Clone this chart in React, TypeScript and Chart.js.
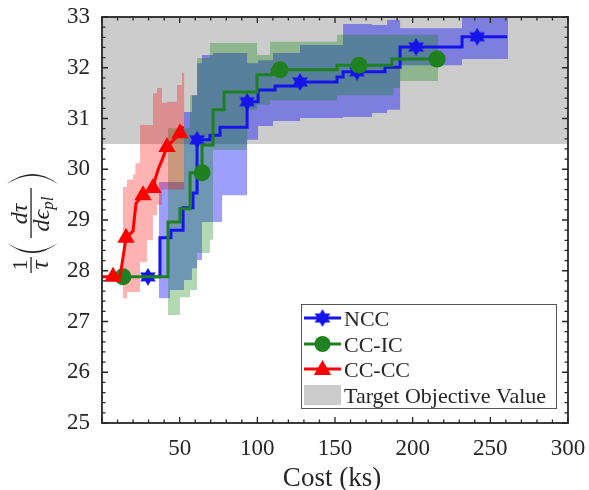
import React, { useEffect, useRef } from 'react';
import { Chart, registerables } from 'chart.js';
Chart.register(...registerables);

// ---------- data ----------
const xTicks = [50, 100, 150, 200, 250, 300];
const yTicks = [25, 26, 27, 28, 29, 30, 31, 32, 33];
const xMinorStep = 10;
const yMinorStep = 0.2;

const targetLow = 30.5;
const targetHigh = 33;

// NCC (blue)
const nccX = [25.1, 37.3, 44.4, 52.2, 58.6, 61.2, 69.5, 76.0, 93.4, 100.5, 111.4, 126.2, 151.3, 155.2, 182.2, 191.9, 231.8, 260.8];
const nccY = [27.88, 28.65, 28.8, 29.24, 29.53, 30.58, 30.67, 30.83, 31.33, 31.56, 31.64, 31.72, 31.82, 31.92, 32.01, 32.41, 32.61, 32.61];
const nccMarkX = [29.6, 61.2, 93.4, 127.5, 164.2, 202.2, 241.5];
const nccMarkY = [27.88, 30.58, 31.33, 31.72, 31.92, 32.41, 32.61];
const nccBandX = [36.7, 43.8, 52.8, 57.9, 61.2, 64.4, 71.5, 77.3, 93.4, 100.5, 110.1, 127.5, 155.2, 173.8, 183.5, 191.9, 231.8, 261.4];
const nccBandLow = [27.46, 27.62, 27.82, 28.05, 28.21, 28.96, 28.96, 29.49, 30.58, 30.85, 30.95, 31.01, 31.03, 31.11, 31.17, 32.05, 32.17, 32.17];
const nccBandHigh = [29.75, 29.75, 31.13, 31.46, 32.09, 32.25, 32.29, 32.29, 32.09, 32.15, 32.29, 32.45, 32.86, 32.84, 32.94, 32.78, 32.98, 32.98];

// CC-IC (green)
const ccicX = [9.66, 42.5, 50.2, 56.7, 64.4, 71.5, 78.6, 99.8, 109.5, 151.3, 186.7, 215.7];
const ccicY = [27.88, 28.96, 29.22, 29.93, 30.48, 31.17, 31.52, 31.86, 31.96, 32.05, 32.17, 32.17];
const ccicMarkX = [13.5, 64.4, 114.6, 165.5, 215.7];
const ccicMarkY = [27.88, 29.93, 31.96, 32.05, 32.17];
const ccicBandX = [42.5, 50.2, 56.7, 61.2, 69.5, 71.5, 93.4, 99.8, 108.2, 151.3, 187.4, 191.9, 216.3];
const ccicBandLow = [27.13, 27.48, 27.62, 28.35, 28.61, 30.38, 31.17, 31.27, 31.36, 31.46, 31.6, 31.74, 31.74];
const ccicBandHigh = [30.81, 30.81, 31.46, 32.19, 32.49, 32.49, 32.49, 32.25, 32.51, 32.65, 32.65, 32.65, 32.65];

// CC-CC (red)
const ccccX = [0, 11.6, 15.45, 19.96, 21.89, 26.4, 32.83, 34.12, 36.05, 38.63, 41.85, 50.21, 52.15];
const ccccY = [27.88, 27.88, 28.65, 28.78, 29.33, 29.49, 29.63, 29.79, 29.99, 30.18, 30.44, 30.71, 30.85];
const ccccMarkX = [7.1, 15.45, 26.4, 32.83, 41.85, 50.21];
const ccccMarkY = [27.88, 28.65, 29.49, 29.63, 30.44, 30.71];
const ccccBandX = [13.5, 16.1, 20, 21.5, 24.5, 29, 32.8, 35.4, 38.6, 41.9, 48.3, 51.5, 53];
const ccccBandLow = [27.46, 27.58, 27.58, 27.58, 28.17, 28.6, 29.1, 29.3, 29.6, 29.6, 29.6, 29.6, 29.6];
const ccccBandHigh = [29.65, 29.8, 29.9, 30.12, 30.87, 30.87, 31.5, 31.6, 31.31, 31.33, 31.66, 31.9, 31.9];

const legendLabels = ['NCC', 'CC-IC', 'CC-CC', 'Target Objective Value'];
const xTitle = 'Cost (ks)';

// ---------- styles ----------
const FONT = "'Liberation Serif', 'Times New Roman', Times, serif";
const MATHFONT = "'Liberation Serif', 'DejaVu Serif', serif";
const TEXT = '#262626';
const BLUE = 'rgb(20,20,235)';
const GREEN = 'rgb(30,128,30)';
const RED = 'rgb(255,0,0)';
const BLUE_BAND = 'rgba(0,0,255,0.38)';
const GREEN_BAND = 'rgba(0,128,0,0.3)';
const RED_BAND = 'rgba(255,0,0,0.3)';
const GRAY = 'rgb(204,204,204)';

const pts = (xs: number[], ys: number[]) => xs.map((x, i) => ({ x, y: ys[i] }));

function hexagram(color: string, r: number) {
  const size = Math.ceil(2 * r + 2);
  const c = document.createElement('canvas');
  c.width = size;
  c.height = size;
  const g = c.getContext('2d')!;
  const cx = size / 2, cy = size / 2;
  g.fillStyle = color;
  g.beginPath();
  for (let i = 0; i < 12; i++) {
    const a = -Math.PI / 2 + (i * Math.PI) / 6;
    const rr = i % 2 === 0 ? r : r * 0.577;
    g.lineTo(cx + rr * Math.cos(a), cy + rr * Math.sin(a));
  }
  g.closePath();
  g.fill();
  return c;
}

function triangle(ctx: CanvasRenderingContext2D, x: number, y: number, r: number) {
  ctx.beginPath();
  for (let i = 0; i < 3; i++) {
    const a = (i * 2 * Math.PI) / 3;
    ctx.lineTo(x + Math.sin(a) * r, y - Math.cos(a) * r);
  }
  ctx.closePath();
  ctx.fill();
}

function paren(ctx: CanvasRenderingContext2D, tipX: number, bulgeX: number, y0: number, y1: number, thick: number) {
  const ym = (y0 + y1) / 2;
  const cx = 2 * bulgeX - tipX;
  const dir = Math.sign(tipX - bulgeX);
  ctx.beginPath();
  ctx.moveTo(tipX, y0);
  ctx.quadraticCurveTo(cx, ym, tipX, y1);
  ctx.lineTo(tipX + dir * 0.1, y1);
  ctx.quadraticCurveTo(cx + dir * 2 * thick, ym, tipX + dir * 0.1, y0);
  ctx.closePath();
  ctx.fill();
}

export default function App() {
  const ref = useRef<HTMLCanvasElement | null>(null);

  useEffect(() => {
    const star = hexagram(BLUE, 9);

    const decor = {
      id: 'decor',
      afterDatasetsDraw(chart: any) {
        const { ctx, chartArea: a, scales } = chart;
        const xs = scales.x, ys = scales.y;
        ctx.save();
        ctx.strokeStyle = TEXT;
        ctx.lineWidth = 1.3;
        ctx.beginPath();
        const nx = Math.round((xs.max - xs.min) / xMinorStep);
        for (let i = 0; i <= nx; i++) {
          const v = xs.min + i * xMinorStep;
          const major = xTicks.includes(v) || v === 0;
          const len = major ? 6 : 3.5;
          const px = xs.getPixelForValue(v);
          ctx.moveTo(px, a.bottom); ctx.lineTo(px, a.bottom - len);
          ctx.moveTo(px, a.top); ctx.lineTo(px, a.top + len);
        }
        const ny = Math.round((ys.max - ys.min) / yMinorStep);
        for (let i = 0; i <= ny; i++) {
          const v = ys.min + i * yMinorStep;
          const major = i % 5 === 0;
          const len = major ? 6 : 3.5;
          const py = ys.getPixelForValue(v);
          ctx.moveTo(a.left, py); ctx.lineTo(a.left + len, py);
          ctx.moveTo(a.right, py); ctx.lineTo(a.right - len, py);
        }
        ctx.stroke();
        ctx.lineWidth = 1.8;
        ctx.strokeRect(a.left, a.top, a.right - a.left, a.bottom - a.top);

        // legend
        const lw = 255, lh = 104;
        const lx = a.right - 12 - lw, ly = a.bottom - 15 - lh;
        ctx.fillStyle = '#ffffff';
        ctx.fillRect(lx, ly, lw, lh);
        ctx.strokeStyle = '#555555';
        ctx.lineWidth = 1;
        ctx.strokeRect(lx + 0.5, ly + 0.5, lw, lh);
        const sx0 = lx + 3, sx1 = lx + 40, mx = (sx0 + sx1) / 2;
        const rows = [ly + 14, ly + 40, ly + 65, ly + 91];
        const cols = [BLUE, GREEN, RED];
        for (let i = 0; i < 3; i++) {
          ctx.strokeStyle = cols[i];
          ctx.lineWidth = 3;
          ctx.beginPath();
          ctx.moveTo(sx0, rows[i]); ctx.lineTo(sx1, rows[i]);
          ctx.stroke();
          ctx.fillStyle = cols[i];
          if (i === 0) ctx.drawImage(star, mx - star.width / 2, rows[i] - star.height / 2);
          if (i === 1) { ctx.beginPath(); ctx.arc(mx, rows[i], 8, 0, Math.PI * 2); ctx.fill(); }
          if (i === 2) triangle(ctx, mx, rows[i] + 1, 10);
        }
        ctx.fillStyle = GRAY;
        ctx.fillRect(sx0, rows[3] - 10, sx1 - sx0, 20);
        ctx.fillStyle = TEXT;
        ctx.font = `22px ${FONT}`;
        ctx.textAlign = 'left';
        ctx.textBaseline = 'middle';
        legendLabels.forEach((t, i) => ctx.fillText(t, lx + 43, rows[i] + 2));
        ctx.restore();
      },
      afterDraw(chart: any) {
        const { ctx, chartArea: a } = chart;
        ctx.save();
        ctx.fillStyle = TEXT;
        // x title
        ctx.font = `27px ${FONT}`;
        ctx.textAlign = 'center';
        ctx.textBaseline = 'alphabetic';
        ctx.fillText(xTitle, (a.left + a.right) / 2 - 3, 486);

        // y label: 1/tau (d tau / d eps_pl), rotated
        const cy = (a.top + a.bottom) / 2 + 2;
        ctx.translate(31, cy);
        ctx.rotate(-Math.PI / 2);
        ctx.textAlign = 'center';
        ctx.textBaseline = 'alphabetic';
        // fraction 1 / tau
        ctx.font = `22px ${MATHFONT}`;
        ctx.fillText('1', -43, -4);
        ctx.fillRect(-51, -0.6, 16, 1.3);
        ctx.font = `italic 25px ${MATHFONT}`;
        ctx.fillText('τ', -43, 17);
        // parens
        paren(ctx, -21, -31, -24, 27, 1.8);
        paren(ctx, 38, 48, -24, 27, 1.8);
        // fraction d tau / d eps_pl
        ctx.font = `italic 24px ${MATHFONT}`;
        ctx.fillText('dτ', 8, -4);
        ctx.fillRect(-16, -0.6, 50, 1.3);
        const main = 'dϵ';
        const wMain = ctx.measureText(main).width;
        ctx.font = `italic 17px ${MATHFONT}`;
        const wSub = ctx.measureText('pl').width;
        const start = 8 - (wMain + wSub) / 2;
        ctx.textAlign = 'left';
        ctx.font = `italic 24px ${MATHFONT}`;
        ctx.fillText(main, start, 18);
        ctx.font = `italic 17px ${MATHFONT}`;
        ctx.fillText('pl', start + wMain, 22);
        ctx.restore();
      },
    };

    const lineBase = { pointRadius: 0, pointHoverRadius: 0, borderWidth: 3, fill: false, tension: 0 };
    const bandBase = { pointRadius: 0, pointHoverRadius: 0, borderWidth: 0, borderColor: 'transparent', stepped: 'before', tension: 0 };

    const chart = new Chart(ref.current!, {
      type: 'line',
      data: {
        datasets: [
          { data: pts(ccccMarkX, ccccMarkY), showLine: false, pointStyle: 'triangle', pointRadius: 10, backgroundColor: RED, borderColor: RED, pointBorderWidth: 0 } as any,
          { ...lineBase, data: pts(ccccX, ccccY), borderColor: RED } as any,
          { data: pts(ccicMarkX, ccicMarkY), showLine: false, pointStyle: 'circle', pointRadius: 8.5, backgroundColor: GREEN, borderColor: GREEN, pointBorderWidth: 0 } as any,
          { ...lineBase, data: pts(ccicX, ccicY), borderColor: GREEN, stepped: 'before' } as any,
          { data: pts(nccMarkX, nccMarkY), showLine: false, pointStyle: star, pointRadius: 9, backgroundColor: BLUE, borderColor: BLUE } as any,
          { ...lineBase, data: pts(nccX, nccY), borderColor: BLUE, stepped: 'before' } as any,
          { ...bandBase, data: pts(ccccBandX, ccccBandHigh), fill: 7, backgroundColor: RED_BAND } as any,
          { ...bandBase, data: pts(ccccBandX, ccccBandLow), fill: false } as any,
          { ...bandBase, data: pts(ccicBandX, ccicBandHigh), fill: 9, backgroundColor: GREEN_BAND } as any,
          { ...bandBase, data: pts(ccicBandX, ccicBandLow), fill: false } as any,
          { ...bandBase, data: pts(nccBandX, nccBandHigh), fill: 11, backgroundColor: BLUE_BAND } as any,
          { ...bandBase, data: pts(nccBandX, nccBandLow), fill: false } as any,
          { ...bandBase, stepped: false, data: [{ x: 0, y: targetHigh }, { x: 300, y: targetHigh }], fill: { value: targetLow }, backgroundColor: GRAY } as any,
        ],
      },
      options: {
        responsive: false,
        animation: false,
        devicePixelRatio: 1,
        events: [],
        layout: { padding: { left: 0, right: 21, top: 17, bottom: 0 } },
        plugins: { legend: { display: false }, tooltip: { enabled: false } },
        scales: {
          x: {
            type: 'linear',
            min: 0,
            max: 300,
            grid: { display: false, drawTicks: false },
            border: { display: false },
            afterBuildTicks: (s: any) => { s.ticks = xTicks.map((v) => ({ value: v })); },
            afterFit: (s: any) => { s.height = 67; s.paddingLeft = 0; s.paddingRight = 0; s.paddingTop = 0; s.paddingBottom = 0; },
            ticks: { font: { family: FONT, size: 23 }, color: TEXT, padding: 12, maxRotation: 0, autoSkip: false },
          },
          y: {
            type: 'linear',
            min: 25,
            max: 33,
            grid: { display: false, drawTicks: false },
            border: { display: false },
            afterBuildTicks: (s: any) => { s.ticks = yTicks.map((v) => ({ value: v })); },
            afterFit: (s: any) => { s.width = 102; s.paddingLeft = 0; s.paddingRight = 0; s.paddingTop = 0; s.paddingBottom = 0; },
            ticks: { font: { family: FONT, size: 23 }, color: TEXT, padding: 12, autoSkip: false },
          },
        },
      } as any,
      plugins: [decor],
    });
    return () => chart.destroy();
  }, []);

  return (
    <div style={{ position: 'absolute', left: 0, top: 0, width: 589, height: 490, background: '#fff' }}>
      <canvas ref={ref} width={589} height={490} style={{ width: 589, height: 490, display: 'block' }} />
    </div>
  );
}
